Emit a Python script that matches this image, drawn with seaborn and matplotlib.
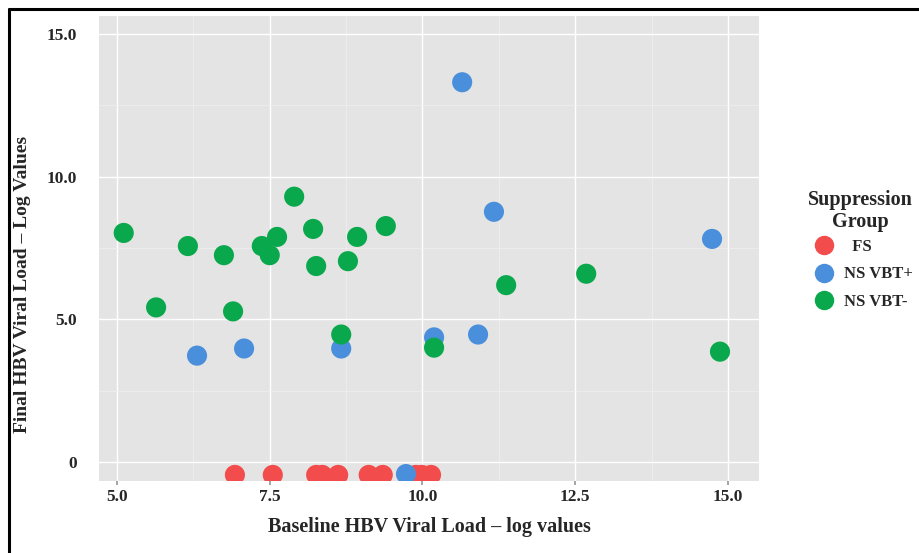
import numpy as np
import pandas as pd
import matplotlib.pyplot as plt
import matplotlib.ticker as ticker
from matplotlib.lines import Line2D
import seaborn as sns

# ── data ──────────────────────────────────────────────────────────────────
fs_base  = [6.93, 7.55, 8.26, 8.36, 8.62, 9.12, 9.35, 9.89, 9.99, 10.14]
fs_final = [-0.45, -0.45, -0.45, -0.45, -0.45, -0.45, -0.45, -0.45, -0.45, -0.45]

vbtp_base  = [6.31, 7.08, 8.67, 10.19, 9.73, 10.65, 11.17, 14.74, 10.91]
vbtp_final = [3.73, 3.98, 3.98, 4.37, -0.42, 13.31, 8.77, 7.82, 4.47]

vbtm_base  = [5.11, 5.64, 6.16, 6.75, 6.90, 7.37, 7.50, 7.62, 7.90, 8.21,
              8.26, 8.67, 8.78, 8.93, 9.40, 10.19, 11.37, 12.68, 14.87]
vbtm_final = [8.03, 5.42, 7.57, 7.25, 5.28, 7.57, 7.25, 7.89, 9.30, 8.17,
              6.87, 4.47, 7.04, 7.89, 8.27, 4.01, 6.20, 6.60, 3.87]

groups = ["FS", "NS VBT+", "NS VBT-"]
colors = {"FS": "#F24C4C", "NS VBT+": "#4A8FDB", "NS VBT-": "#0AA84C"}

df = pd.concat([
    pd.DataFrame({"base": fs_base, "final": fs_final, "group": "FS"}),
    pd.DataFrame({"base": vbtp_base, "final": vbtp_final, "group": "NS VBT+"}),
    pd.DataFrame({"base": vbtm_base, "final": vbtm_final, "group": "NS VBT-"}),
], ignore_index=True)

sns.set_theme(style="darkgrid", rc={"axes.facecolor": "#E4E4E4",
                                    "grid.color": "white"})
plt.rcParams["font.family"] = ["Liberation Serif", "DejaVu Serif"]
plt.rcParams["font.weight"] = "bold"

fig = plt.figure(figsize=(9.19, 5.53), dpi=100)
ax = fig.add_axes([0.1077, 0.130, 0.7183, 0.841])

sns.scatterplot(data=df, x="base", y="final", hue="group", hue_order=groups,
                palette=colors, s=210, edgecolor="none", linewidth=0,
                legend=False, ax=ax, zorder=3)

ax.set_xlim(4.705, 15.51)
ax.set_ylim(-0.667, 15.63)
ax.xaxis.set_major_locator(ticker.MultipleLocator(2.5))
ax.xaxis.set_minor_locator(ticker.MultipleLocator(1.25))
ax.set_yticks([0, 5, 10, 15])
ax.set_yticklabels(["0", "5.0", "10.0", "15.0"])
ax.yaxis.set_minor_locator(ticker.MultipleLocator(2.5))
ax.xaxis.set_major_formatter(ticker.FormatStrFormatter("%.1f"))
ax.grid(which="major", color="white", lw=1.0)
ax.grid(which="minor", color="#F0F0F0", lw=0.5)
ax.tick_params(which="major", length=3, color="#999999", labelsize=12.5,
               bottom=True, left=False)
ax.tick_params(axis="x", pad=3)
ax.tick_params(axis="y", pad=13)
ax.tick_params(which="minor", length=0)
for lab in ax.get_xticklabels() + ax.get_yticklabels():
    lab.set_fontweight("bold")
for s in ax.spines.values():
    s.set_visible(False)

ax.set_xlabel("Baseline HBV Viral Load \u2013 log values", fontsize=14.5,
              fontweight="bold", labelpad=8)
ax.set_ylabel("Final HBV Viral Load \u2013 Log Values", fontsize=14,
              fontweight="bold")
ax.yaxis.set_label_coords(-0.103, 0.422)

# legend: title as its own text so the gap under it can be set freely
fig.text(860 / 919, 1 - 211 / 553, "Suppression\nGroup", ha="center",
         va="center", ma="center", fontsize=14.5, fontweight="bold",
         linespacing=1.1)
handles = [Line2D([], [], marker="o", ls="", markersize=14,
                  markerfacecolor=colors[g], markeredgecolor="none") for g in groups]
labels = ["  FS", "NS VBT+", "NS VBT-"]
fig.legend(handles, labels, loc="upper left",
           bbox_to_anchor=(807 / 919, 1 - 239 / 553),
           frameon=False, prop={"weight": "bold", "size": 12},
           handletextpad=0.2, labelspacing=0.69, borderpad=0,
           borderaxespad=0)

# frame drawn round the picture (only top and left edges show)
fig.add_artist(Line2D([0.0098, 1.0], [0.984, 0.984], color="black", lw=2.2,
                      transform=fig.transFigure))
fig.add_artist(Line2D([0.0098, 0.0098], [0.0, 0.984], color="black", lw=2.2,
                      transform=fig.transFigure))

fig.savefig("out.png", dpi=100)
